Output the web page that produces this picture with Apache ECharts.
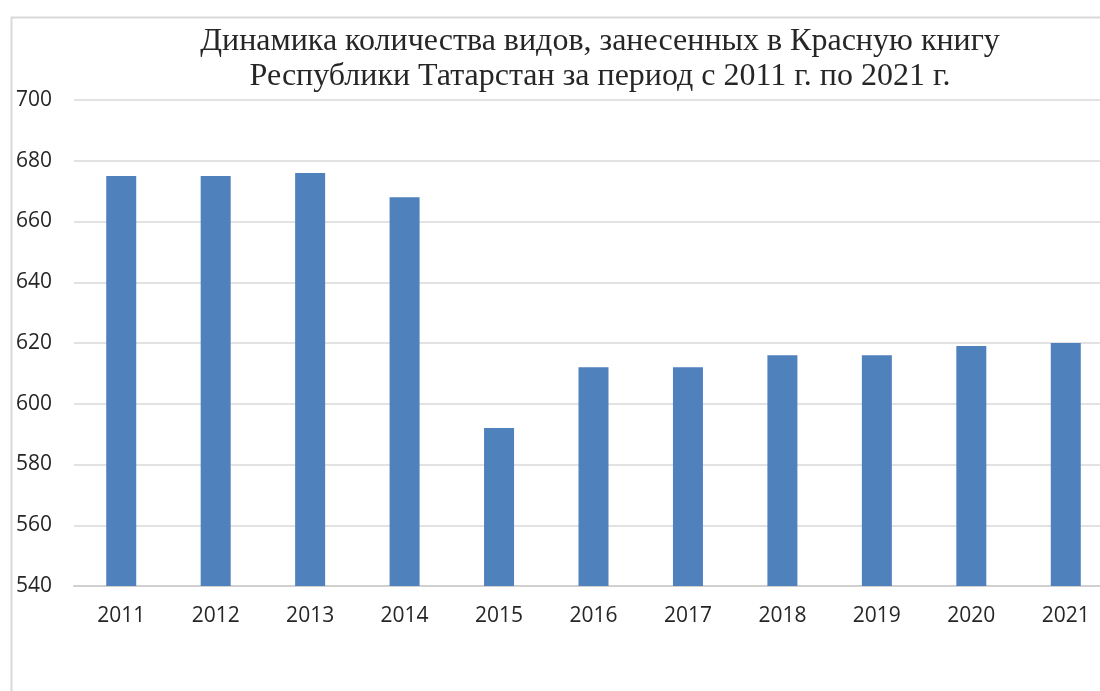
<!DOCTYPE html>
<html>
<head>
<meta charset="utf-8">
<script src="https://cdn.jsdelivr.net/npm/echarts@6/dist/echarts.min.js"></script>
<style>
  html, body { margin: 0; padding: 0; background: #fff; }
  #chart { width: 1100px; height: 691px; }
</style>
</head>
<body>
<div id="chart"></div>
<script>
// Число видов в Красной книге Республики Татарстан по годам
const years = ['2011', '2012', '2013', '2014', '2015', '2016', '2017', '2018', '2019', '2020', '2021'];
const speciesCount = [675, 675, 676, 668, 592, 612, 612, 616, 616, 619, 620];
const titleLines = [
  'Динамика количества видов, занесенных в Красную книгу',
  'Республики Татарстан за период с 2011 г. по 2021 г.'
];

const chart = echarts.init(document.getElementById('chart'), null, { renderer: 'canvas' });

chart.setOption({
  animation: false,
  backgroundColor: '#ffffff',
  graphic: [{
    type: 'rect',
    left: 9, top: 15,
    shape: { width: 1300, height: 900 },
    style: { fill: 'none', stroke: '#d9d9d9', lineWidth: 2 },
    silent: true,
    z: -1
  }],
  title: {
    text: titleLines.join('\n'),
    left: 595,
    top: 19,
    textAlign: 'center',
    textStyle: {
      fontFamily: '"Liberation Serif", "DejaVu Serif", serif',
      fontSize: 32,
      fontWeight: 'normal',
      color: '#262626',
      lineHeight: 35
    }
  },
  grid: {
    left: 74,
    top: 100,
    width: 1039,
    height: 486,
    containLabel: false,
    outerBoundsMode: 'none'
  },
  xAxis: {
    type: 'category',
    data: years,
    axisLine: { show: true, lineStyle: { color: '#d0d0d0', width: 2 } },
    axisTick: { show: false },
    axisLabel: {
      margin: 20,
      fontFamily: '"Open Sans", "Liberation Sans", sans-serif',
      fontSize: 21,
      color: '#262626'
    }
  },
  yAxis: {
    type: 'value',
    min: 540,
    max: 700,
    interval: 20,
    axisLine: { show: false },
    axisTick: { show: false },
    splitLine: { lineStyle: { color: '#d9d9d9', width: 1.5 } },
    axisLabel: {
      margin: 22,
      fontFamily: '"Open Sans", "Liberation Sans", sans-serif',
      fontSize: 21,
      color: '#262626'
    }
  },
  series: [{
    type: 'bar',
    data: speciesCount,
    barWidth: 30,
    itemStyle: { color: '#4f81bd' }
  }]
});
</script>
</body>
</html>
